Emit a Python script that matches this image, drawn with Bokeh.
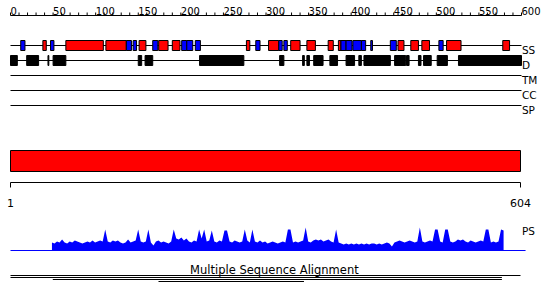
from bokeh.plotting import figure
from bokeh.models import Range1d
from bokeh.core.properties import value
from bokeh.embed import file_html
from bokeh.resources import INLINE

# ---------------- data ----------------
ruler_ticks = list(range(0, 601, 10))
ruler_labels = ["0", "50", "100", "150", "200", "250", "300", "350", "400", "450", "500", "550", "600"]
ruler_label_pos = [0, 50, 100, 150, 200, 250, 300, 350, 400, 450, 500, 550, 600]

helix_start = [38, 65, 112, 151, 174, 190, 277, 303, 329, 348, 373, 385, 455, 470, 483, 512, 578]
helix_end   = [42, 109, 136, 159, 185, 199, 281, 315, 340, 358, 379, 388, 462, 479, 492, 529, 586]

strand_start = [12, 47, 136, 144, 167, 201, 207, 217, 288, 315, 321, 388, 394, 402, 412, 423, 446, 503]
strand_end   = [17, 51, 142, 148, 173, 207, 214, 223, 293, 319, 325, 394, 401, 412, 417, 425, 453, 508]

dis_start = [0, 19, 44, 50, 150, 158, 222, 316, 343, 348, 356, 375, 394, 409, 415, 451, 465, 479, 485, 501, 526]
dis_end   = [8, 33, 45, 65, 154, 167, 274, 321, 345, 351, 367, 384, 404, 412, 446, 464, 468, 482, 494, 513, 600]

track_names = ["SS", "D", "TM", "CC", "SP"]

seq_length = 604
domain_start = [1]
domain_end = [604]

ps_pos = list(range(50, 585, 3))
ps_val = [
    8, 7, 9, 8, 11, 8, 7, 9, 8, 10,
    9, 8, 7, 8, 9, 8, 10, 8, 9, 10,
    9, 21, 9, 8, 10, 9, 10, 8, 7, 8,
    11, 8, 9, 10, 21, 9, 8, 9, 21, 8,
    5, 9, 10, 8, 9, 8, 7, 9, 21, 12,
    11, 13, 10, 12, 9, 8, 10, 9, 21, 12,
    21, 9, 10, 20, 9, 8, 10, 9, 20, 20,
    9, 8, 10, 9, 8, 9, 21, 10, 8, 21,
    9, 8, 10, 8, 9, 7, 8, 9, 8, 7,
    8, 9, 8, 21, 21, 8, 9, 8, 9, 10,
    23, 9, 8, 10, 11, 10, 11, 9, 10, 11,
    9, 8, 21, 8, 7, 6, 7, 6, 7, 6,
    7, 6, 7, 6, 7, 6, 7, 7, 6, 7,
    6, 7, 8, 7, 4, 8, 9, 10, 9, 8,
    9, 10, 9, 8, 9, 23, 9, 8, 9, 10,
    9, 21, 21, 9, 8, 21, 21, 9, 8, 9,
    11, 10, 11, 9, 8, 10, 9, 8, 9, 10,
    9, 21, 21, 8, 9, 8, 9, 21, 20,
]

msa_start = [1, 1, 51, 176]
msa_end = [604, 582, 582, 348]

# ---------------- layout ----------------
W, H = 550, 303
LEFT_PX = 10.0
TOP_K = 511.0 / 600.0             # px per residue, ruler scale
SEQ_K = 510.0 / 603.0             # px per residue, sequence scale

p = figure(width=W, height=H, output_backend="svg", toolbar_location=None,
           x_axis_type=None, y_axis_type=None, min_border=0, title=None,
           x_range=Range1d(-LEFT_PX / TOP_K, (W - LEFT_PX) / TOP_K),
           y_range=Range1d(H, 0))
p.extra_x_ranges = {"seq": Range1d(1 - LEFT_PX / SEQ_K, 1 + (W - LEFT_PX) / SEQ_K)}
p.extra_y_ranges = {"ps": Range1d(-(H - 250), 250)}
p.outline_line_color = None
p.background_fill_color = "white"
p.border_fill_color = "white"

font = value("DejaVu Sans")

# ruler
p.segment(x0=0, x1=600, y0=15, y1=15, line_color="black", line_width=1)
p.segment(x0=ruler_ticks, x1=ruler_ticks, y0=15, y1=12, line_color="black", line_width=1)
p.text(x=ruler_label_pos, y=[10.5] * len(ruler_label_pos), text=ruler_labels,
       text_font=font, text_font_size="10px", text_align="left",
       text_baseline="alphabetic", text_color="black")

# track lines
row_y = [45, 60, 75, 90, 105]
p.segment(x0=[0] * 5, x1=[600] * 5, y0=row_y, y1=row_y, line_color="black", line_width=1)
p.text(x=[600.5] * 5, y=[y + 4.5 for y in row_y], text=track_names,
       text_font=font, text_font_size="10.5px", text_align="left",
       text_baseline="alphabetic", text_color="black")

# secondary structure
p.quad(left=helix_start, right=helix_end, top=40, bottom=50,
       fill_color="#FF0000", line_color="black", line_width=1)
p.quad(left=strand_start, right=strand_end, top=40, bottom=50,
       fill_color="#0000FF", line_color="black", line_width=1)

# disorder
p.quad(left=dis_start, right=dis_end, top=55, bottom=65,
       fill_color="black", line_color="black", line_width=1)

# domain bar
p.quad(left=domain_start, right=domain_end, top=150, bottom=171,
       fill_color="#FF0000", line_color="black", line_width=1, x_range_name="seq")
p.segment(x0=1, x1=seq_length, y0=182, y1=182, line_color="black",
          line_width=1, x_range_name="seq")
p.segment(x0=[1, seq_length], x1=[1, seq_length], y0=182, y1=187,
          line_color="black", line_width=1, x_range_name="seq")
p.text(x=[1, seq_length], y=[202, 202], text=["1", str(seq_length)],
       text_font=font, text_font_size="11px", text_align="center",
       text_baseline="alphabetic", text_color="black", x_range_name="seq")

# PS profile
p.varea(x=ps_pos, y1=0, y2=ps_val, fill_color="#0000FF",
        x_range_name="seq", y_range_name="ps")
p.segment(x0=1, x1=610, y0=0, y1=0, line_color="#0000FF", line_width=1,
          x_range_name="seq", y_range_name="ps")
p.text(x=[600.5], y=[230], text=["PS"], text_font=font, text_font_size="10.5px",
       text_align="left", text_baseline="alphabetic", text_color="black")

# MSA
p.text(x=[313], y=[269.5], text=["Multiple Sequence Alignment"], text_font=font,
       text_font_size="11.5px", text_align="center", text_baseline="alphabetic",
       text_color="black", x_range_name="seq")
msa_y = [275, 277, 279, 281]
p.segment(x0=msa_start, x1=msa_end, y0=msa_y, y1=msa_y, line_color="black",
          line_width=1, x_range_name="seq")

open("out.html", "w").write(file_html(p, INLINE))
